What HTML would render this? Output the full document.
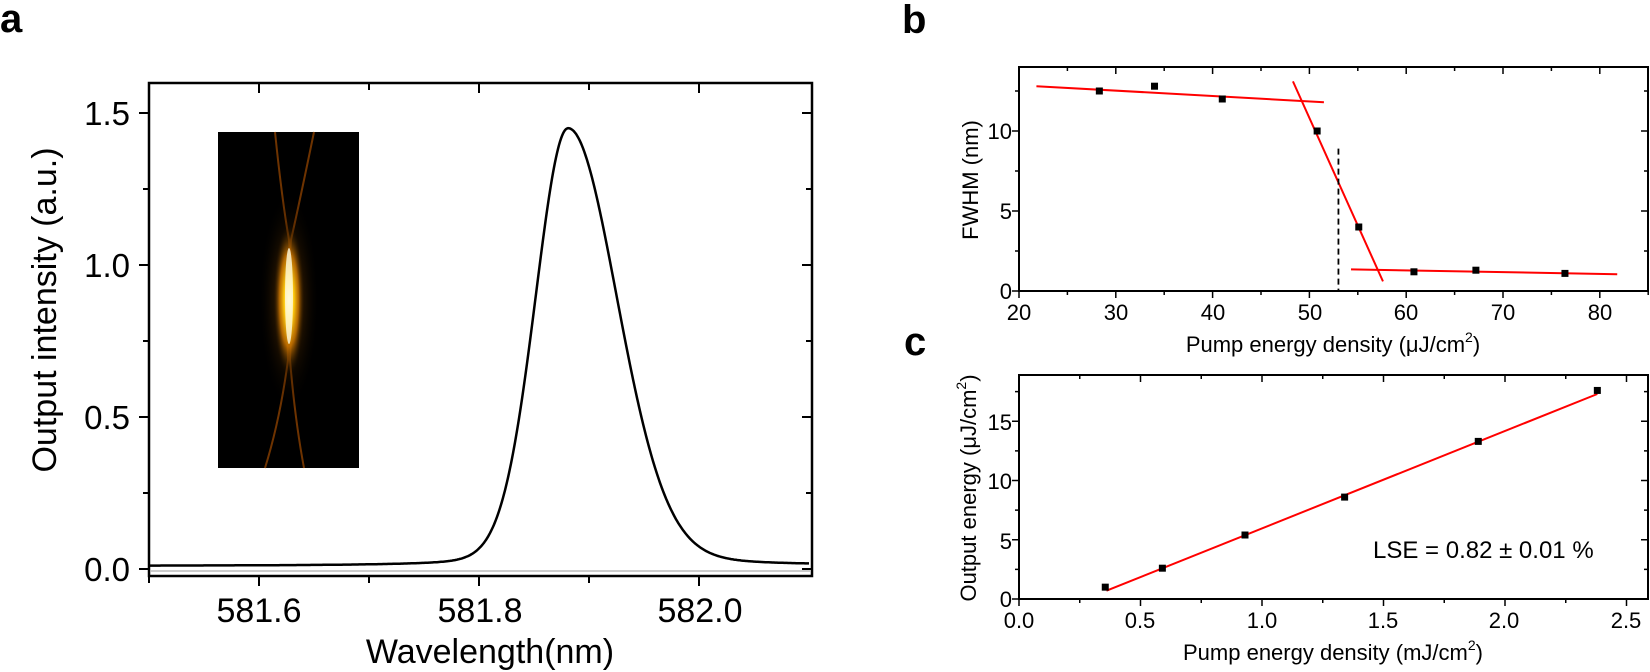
<!DOCTYPE html>
<html><head><meta charset="utf-8"><style>
html,body{margin:0;padding:0;background:#fff;}
svg{display:block;font-family:"Liberation Sans",Arial,sans-serif;}
</style></head><body>
<svg id="s" width="1650" height="672" viewBox="0 0 1650 672" xmlns="http://www.w3.org/2000/svg">
<defs>
<radialGradient id="glow" cx="0.5" cy="0.5" r="0.5">
<stop offset="0" stop-color="#fff8d0"/>
<stop offset="0.3" stop-color="#ffcc10"/>
<stop offset="0.6" stop-color="#d07800" stop-opacity="0.8"/>
<stop offset="1" stop-color="#000" stop-opacity="0"/>
</radialGradient>
<radialGradient id="halo" cx="0.5" cy="0.5" r="0.5">
<stop offset="0" stop-color="#b06000" stop-opacity="0.7"/>
<stop offset="1" stop-color="#000" stop-opacity="0"/>
</radialGradient>
</defs>
<text x="0" y="32" font-size="40" font-weight="bold">a</text>
<text x="902" y="33" font-size="40" font-weight="bold">b</text>
<text x="904" y="355" font-size="40" font-weight="bold">c</text>

<g stroke="#000" stroke-width="2.5" fill="none">
<rect x="149" y="83" width="663" height="493"/>
</g>
<g id="aticks" stroke="#000" stroke-width="2"></g>
<g font-size="33" text-anchor="end">
<text x="130" y="125">1.5</text>
<text x="130" y="277">1.0</text>
<text x="130" y="429">0.5</text>
<text x="130" y="581">0.0</text>
</g>
<g font-size="34" text-anchor="middle">
<text x="259" y="622">581.6</text>
<text x="480" y="622">581.8</text>
<text x="700" y="622">582.0</text>
<text x="490" y="663">Wavelength(nm)</text>
</g>
<text transform="translate(56,310) rotate(-90)" font-size="34" text-anchor="middle">Output intensity (a.u.)</text>
<line x1="150" y1="571" x2="811" y2="571" stroke="#bbb" stroke-width="1.5"/>

<rect x="218" y="132" width="141" height="336" fill="#000"/>
<path d="M275,132 Q282,200 289,240 Q293,300 290,360 Q295,420 304,468" stroke="#8a4000" stroke-width="2" fill="none" opacity="0.8"/>
<path d="M314,132 Q300,200 291,240 Q286,300 288,360 Q280,420 265,468" stroke="#8a4000" stroke-width="2" fill="none" opacity="0.8"/>
<ellipse cx="289" cy="300" rx="30" ry="110" fill="url(#halo)"/>
<ellipse cx="289" cy="300" rx="16" ry="78" fill="url(#glow)"/>
<ellipse cx="289" cy="296" rx="4" ry="48" fill="#fffbe0" opacity="0.8"/>

<path id="peak" stroke="#000" stroke-width="2.5" fill="none"/>

<rect x="1019" y="67" width="629" height="224" stroke="#000" stroke-width="2" fill="none"/>
<g id="bticks" stroke="#000" stroke-width="1.5"></g>
<g font-size="22" text-anchor="end">
<text x="1012" y="139">10</text>
<text x="1012" y="219">5</text>
<text x="1012" y="299">0</text>
</g>
<g font-size="22" text-anchor="middle">
<text x="1019" y="320">20</text><text x="1116" y="320">30</text><text x="1213" y="320">40</text>
<text x="1310" y="320">50</text><text x="1406" y="320">60</text><text x="1503" y="320">70</text><text x="1600" y="320">80</text>
<text x="1333" y="352">Pump energy density (μJ/cm<tspan font-size="14" dy="-10">2</tspan><tspan dy="10">)</tspan></text>
</g>
<text transform="translate(978,180) rotate(-90)" font-size="22" text-anchor="middle">FWHM (nm)</text>
<g stroke="#f00" stroke-width="2">
<line id="b1"/><line id="b2"/><line id="b3"/>
</g>
<line id="bd" stroke="#000" stroke-width="1.8" stroke-dasharray="6,4"/>
<g id="bpts" fill="#000"></g>

<rect x="1019" y="375" width="629" height="224" stroke="#000" stroke-width="2" fill="none"/>
<g id="cticks" stroke="#000" stroke-width="1.5"></g>
<g font-size="22" text-anchor="end">
<text x="1012" y="430">15</text>
<text x="1012" y="489">10</text>
<text x="1012" y="549">5</text>
<text x="1012" y="607">0</text>
</g>
<g font-size="22" text-anchor="middle">
<text x="1019" y="628">0.0</text><text x="1140" y="628">0.5</text><text x="1262" y="628">1.0</text>
<text x="1383" y="628">1.5</text><text x="1504" y="628">2.0</text><text x="1626" y="628">2.5</text>
<text x="1333" y="660">Pump energy density (mJ/cm<tspan font-size="14" dy="-10">2</tspan><tspan dy="10">)</tspan></text>
</g>
<text transform="translate(976,488) rotate(-90)" font-size="22" text-anchor="middle">Output energy (μJ/cm<tspan font-size="14" dy="-10">2</tspan><tspan dy="10">)</tspan></text>
<line id="c1" stroke="#f00" stroke-width="2"/>
<g id="cpts" fill="#000"></g>
<text x="1373" y="558" font-size="24">LSE = 0.82 ± 0.01 %</text>
</svg>
<script>
var NS="http://www.w3.org/2000/svg";
function el(p,t,a){var e=document.createElementNS(NS,t);for(var k in a)e.setAttribute(k,a[k]);p.appendChild(e);return e;}
function $(i){return document.getElementById(i);}
var ax=function(v){return 149+(v-581.5)*1100;}, ay=function(v){return 569-v*304;};
var g=$("aticks");
for(var v=581.5;v<=582.1;v+=0.1){var x=ax(v);var L=(Math.round(v*10)%2==0)?10:7;
 el(g,"line",{x1:x,y1:576,x2:x,y2:576+L});el(g,"line",{x1:x,y1:83,x2:x,y2:83+L});}
for(var v=0;v<=1.5;v+=0.25){var y=ay(v);var L=(Math.round(v*4)%2==0)?10:6;
 el(g,"line",{x1:149-L,y1:y,x2:149,y2:y});el(g,"line",{x1:812-L,y1:y,x2:812,y2:y});}
var d="";
for(var i=0;i<=660;i++){var w=581.5+i/1100;var dx=w-581.881;
 var s=dx<0?0.030:0.045;var G=Math.exp(-dx*dx/(2*s*s));var gm=s*1.2;var Lr=1/(1+dx*dx/(gm*gm));
 var f=0.01+1.44*(0.9*G+0.1*Lr);d+=(i?"L":"M")+ax(w).toFixed(1)+","+ay(f).toFixed(1);}
$("peak").setAttribute("d",d);
var bx=function(v){return 1019+(v-20)*9.68;}, by=function(v){return 291-v*16;};
g=$("bticks");
for(var v=20;v<=85;v+=5){var x=bx(v);var L=(v%10==0)?7:4;
 el(g,"line",{x1:x,y1:291,x2:x,y2:291+L});el(g,"line",{x1:x,y1:67,x2:x,y2:67+L});}
for(var v=0;v<=12.5;v+=2.5){var y=by(v);var L=(v%5==0)?7:4;
 el(g,"line",{x1:1019-L,y1:y,x2:1019,y2:y});el(g,"line",{x1:1648-L,y1:y,x2:1648,y2:y});}
function setl(id,x1,y1,x2,y2){var e=$(id);e.setAttribute("x1",x1);e.setAttribute("y1",y1);e.setAttribute("x2",x2);e.setAttribute("y2",y2);}
setl("b1",bx(21.8),by(12.8),bx(51.5),by(11.8));
setl("b2",bx(48.3),by(13.1),bx(57.6),by(0.6));
setl("b3",bx(54.3),by(1.35),bx(81.8),by(1.05));
setl("bd",bx(53),by(8.9),bx(53),291);
[[28.3,12.5],[34,12.8],[41,12],[50.8,10],[55.1,4],[60.8,1.2],[67.2,1.3],[76.4,1.1]].forEach(function(p){
 el($("bpts"),"rect",{x:bx(p[0])-3.5,y:by(p[1])-3.5,width:7,height:7});});
var cx=function(v){return 1019+v*243;}, cy=function(v){return 599-v*11.85;};
g=$("cticks");
for(var v=0;v<=2.5001;v+=0.25){var x=cx(v);var L=(Math.round(v*4)%2==0)?7:4;
 el(g,"line",{x1:x,y1:599,x2:x,y2:599+L});el(g,"line",{x1:x,y1:375,x2:x,y2:375+L});}
for(var v=0;v<=17.5;v+=2.5){var y=cy(v);var L=(v%5==0)?7:4;
 el(g,"line",{x1:1019-L,y1:y,x2:1019,y2:y});el(g,"line",{x1:1648-L,y1:y,x2:1648,y2:y});}
setl("c1",cx(0.36),cy(0.7),cx(2.38),cy(17.3));
[[0.355,1.0],[0.59,2.6],[0.93,5.4],[1.34,8.6],[1.89,13.3],[2.38,17.6]].forEach(function(p){
 el($("cpts"),"rect",{x:cx(p[0])-3.5,y:cy(p[1])-3.5,width:7,height:7});});
</script>
</body></html>
